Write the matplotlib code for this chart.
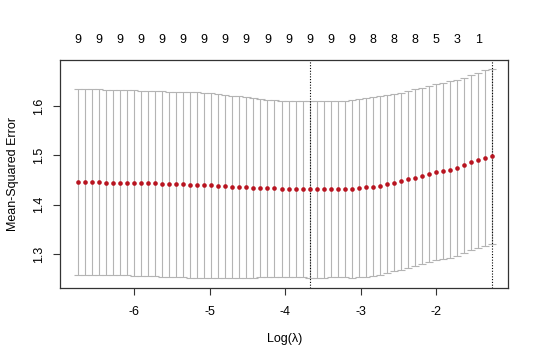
import matplotlib
matplotlib.use("Agg")
import matplotlib.pyplot as plt
import matplotlib.transforms as mtransforms

plt.rcParams["font.family"] = ["Liberation Sans", "DejaVu Sans"]

# log(lambda) grid (60 values, left = smallest lambda)
log_lambda = [
    -6.748, -6.655, -6.562, -6.469, -6.376, -6.283, -6.189, -6.096, -6.003, -5.910,
    -5.817, -5.724, -5.631, -5.538, -5.445, -5.352, -5.258, -5.165, -5.072, -4.979,
    -4.886, -4.793, -4.700, -4.607, -4.514, -4.421, -4.328, -4.235, -4.142, -4.048,
    -3.955, -3.862, -3.769, -3.676, -3.583, -3.490, -3.397, -3.304, -3.211, -3.118,
    -3.025, -2.932, -2.839, -2.745, -2.652, -2.559, -2.466, -2.373, -2.280, -2.187,
    -2.094, -2.001, -1.908, -1.815, -1.722, -1.629, -1.535, -1.442, -1.349, -1.256,
]

# cross-validated mean squared error
cvm = [
    1.446, 1.446, 1.446, 1.446, 1.445, 1.445, 1.445, 1.445, 1.444, 1.443,
    1.443, 1.443, 1.442, 1.441, 1.441, 1.441, 1.440, 1.440, 1.439, 1.439,
    1.438, 1.437, 1.436, 1.436, 1.435, 1.434, 1.434, 1.433, 1.433, 1.432,
    1.4318, 1.4315, 1.4313, 1.4310, 1.4311, 1.4312, 1.4313, 1.4315, 1.4317, 1.4320,
    1.4333, 1.4350, 1.4365, 1.4385, 1.4418, 1.4446, 1.4475, 1.4512, 1.4548, 1.4582,
    1.4620, 1.4660, 1.4680, 1.4712, 1.4745, 1.4798, 1.4858, 1.4900, 1.4946, 1.4982,
]

# standard error of the cv estimate
cvsd = [
    0.188, 0.188, 0.188, 0.188, 0.188, 0.188, 0.188, 0.188, 0.188, 0.188,
    0.188, 0.188, 0.188, 0.188, 0.188, 0.188, 0.188, 0.188, 0.187, 0.187,
    0.186, 0.186, 0.185, 0.184, 0.183, 0.182, 0.181, 0.180, 0.179, 0.179,
    0.179, 0.179, 0.179, 0.179, 0.179, 0.179, 0.179, 0.179, 0.179, 0.180,
    0.181, 0.182, 0.182, 0.182, 0.181, 0.180, 0.180, 0.179, 0.179, 0.179,
    0.179, 0.179, 0.179, 0.179, 0.178, 0.178, 0.178, 0.178, 0.178, 0.177,
]

# number of nonzero coefficients, shown for every third lambda
nzero = [9, 9, 9, 9, 9, 9, 9, 9, 9, 9, 9, 9, 9, 9, 8, 8, 8, 5, 3, 1]

lambda_min = log_lambda[33]
lambda_1se = log_lambda[59]

cvup = [m + s for m, s in zip(cvm, cvsd)]
cvlo = [m - s for m, s in zip(cvm, cvsd)]

fig = plt.figure(figsize=(5.4, 3.64), dpi=100)
ax = fig.add_axes([0.1117, 0.2088, 0.829, 0.625])

barw = (max(log_lambda) - min(log_lambda)) * 0.01
bar_col = "#b4b4b4"
ax.vlines(log_lambda, cvlo, cvup, color=bar_col, lw=0.8)
ax.hlines(cvup, [x - barw for x in log_lambda], [x + barw for x in log_lambda],
          color=bar_col, lw=0.8)
ax.hlines(cvlo, [x - barw for x in log_lambda], [x + barw for x in log_lambda],
          color=bar_col, lw=0.8)

ax.scatter(log_lambda, cvm, s=11, color="#b81420", zorder=3, linewidths=0)

ax.axvline(lambda_min, color="black", ls=(0, (1, 1.5)), lw=0.8)
ax.axvline(lambda_1se, color="black", ls=(0, (1, 1.5)), lw=0.8)

ax.set_xlim(-6.979, -1.048)
ax.set_ylim(1.231, 1.6925)
ax.set_xticks([-6, -5, -4, -3, -2])
ax.set_xticklabels(["-6", "-5", "-4", "-3", "-2"])
ax.set_yticks([1.3, 1.4, 1.5, 1.6])
ax.set_yticklabels(["1.3", "1.4", "1.5", "1.6"], rotation=90, va="center")
ax.tick_params(direction="out", length=5, width=0.8, labelsize=9, color="#333333")
ax.tick_params(axis="x", pad=8)
ax.tick_params(axis="y", pad=6)
for sp in ax.spines.values():
    sp.set_linewidth(0.9)
    sp.set_color("#333333")

ax.set_xlabel("Log(λ)", fontsize=9, labelpad=11)
ax.set_ylabel("Mean-Squared Error", fontsize=9, labelpad=10)

# top labels: nonzero counts
trans = mtransforms.blended_transform_factory(ax.transData, ax.transAxes)
for x, n in zip(log_lambda[::3], nzero):
    ax.text(x, 1.09, str(n), transform=trans, ha="center", va="center", fontsize=9)

fig.savefig("out.png", dpi=100)
